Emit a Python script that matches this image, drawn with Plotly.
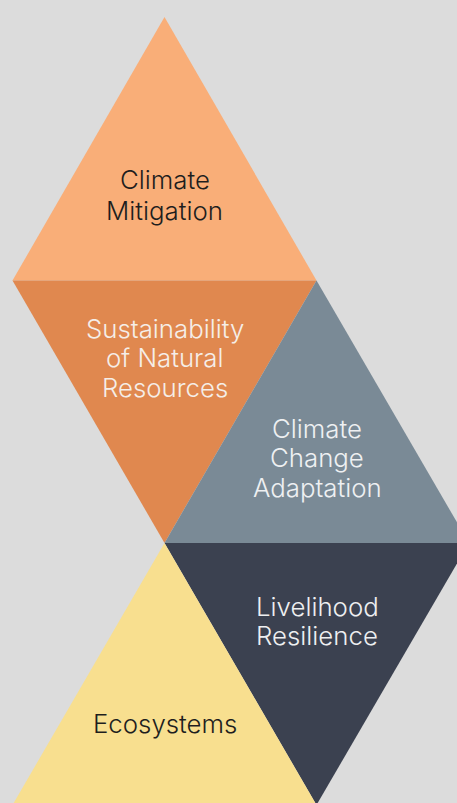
import plotly.graph_objects as go

# Lattice of the diamond diagram (in pixel units of the canvas)
col_x = [12.5, 164.5, 316.5, 469.0]   # vertex columns
row_y = [17.0, 280.5, 543.0, 805.0]   # vertex rows

# Triangle labels (one entry per line), colours
labels = [["Climate", "Mitigation"],
          ["Sustainability", "of Natural", "Resources"],
          ["Climate", "Change", "Adaptation"],
          ["Livelihood", "Resilience"],
          ["Ecosystems"]]
fills = ["#f9ae78", "#e0884f", "#7a8a96", "#3b4150", "#f8df8f"]
text_colors = ["#1e1e1e", "#f5eee8", "#eef0f2", "#eeeff1", "#1e1e1e"]
# vertices as (column index, row index)
tri_vertices = [
    [(1, 0), (0, 1), (2, 1)],
    [(0, 1), (2, 1), (1, 2)],
    [(2, 1), (1, 2), (3, 2)],
    [(1, 2), (3, 2), (2, 3)],
    [(1, 2), (0, 3), (2, 3)],
]
# label centre x and first-line y, line spacing
label_x = [164.5, 164.5, 317, 317, 164.5]
label_y0 = [179.5, 328.5, 428, 606, 723]
line_gaps = [30.5, 29.3, 29.5, 29, 29]

fig = go.Figure()
for verts, fc in zip(tri_vertices, fills):
    xs = [col_x[c] for c, r in verts] + [col_x[verts[0][0]]]
    ys = [row_y[r] for c, r in verts] + [row_y[verts[0][1]]]
    fig.add_trace(go.Scatter(x=xs, y=ys, mode="lines", fill="toself",
                             fillcolor=fc, line=dict(width=0, color=fc),
                             hoverinfo="skip", showlegend=False))

for lines, lx, ly, gap, tc in zip(labels, label_x, label_y0, line_gaps, text_colors):
    for i, ln in enumerate(lines):
        fig.add_annotation(x=lx, y=ly + i * gap, text=ln, showarrow=False,
                           xanchor="center", yanchor="middle", align="center",
                           font=dict(family="Inter", size=25.8, color=tc, weight=300))

fig.update_layout(
    width=457, height=803,
    margin=dict(l=0, r=0, t=0, b=0),
    paper_bgcolor="#dcdcdc", plot_bgcolor="#dcdcdc",
    xaxis=dict(range=[0, 457], visible=False, fixedrange=True),
    yaxis=dict(range=[803, 0], visible=False, fixedrange=True),
    showlegend=False,
)
fig.write_html("out.html", config={"displayModeBar": False},
               post_script="document.body.style.margin='0';document.body.style.background='#dcdcdc';")
